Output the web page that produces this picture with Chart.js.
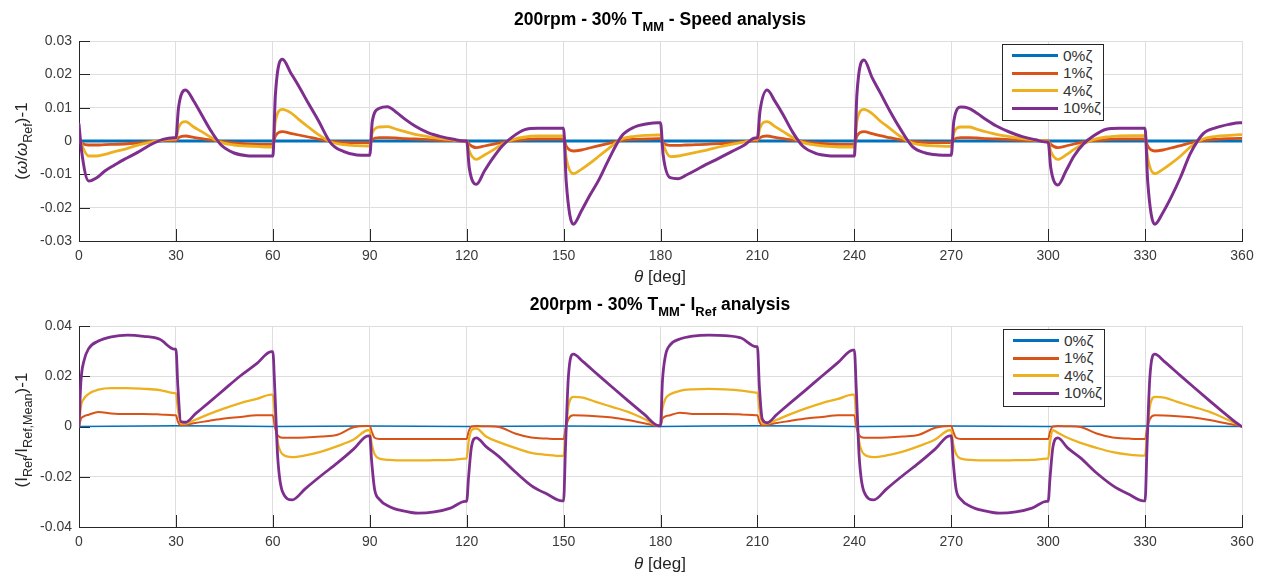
<!DOCTYPE html>
<html>
<head>
<meta charset="utf-8">
<script src="https://cdn.jsdelivr.net/npm/chart.js@4.4.1/dist/chart.umd.min.js"></script>
<style>
body { margin: 0; background: #fff; }
#page { position: relative; width: 1263px; height: 577px; font-family: 'Liberation Sans', Arial, sans-serif; color: #262626; overflow: hidden; }
canvas { position: absolute; left: 0; }
.title { position: absolute; left: 660px; transform: translateX(-50%); font-weight: bold; font-size: 17.5px; color: #000; white-space: nowrap; line-height: 1; }
.xlabel { position: absolute; left: 660px; transform: translateX(-50%); font-size: 17px; white-space: nowrap; line-height: 1; }
.ylabel { position: absolute; transform: translate(-50%, -50%) rotate(-90deg); font-size: 17px; white-space: nowrap; line-height: 1; }
sub { font-size: 74%; vertical-align: -0.45em; line-height: 0; }
.legend { position: absolute; background: #fff; border: 1px solid #262626; box-sizing: border-box; padding-top: 2px; }
.legend-row { display: flex; align-items: center; height: 17.5px; font-size: 15.5px; color: #333; }
.legend-line { width: 46px; height: 3px; margin-left: 9px; margin-right: 5px; }
</style>
</head>
<body>
<div id="page">
  <canvas id="speedChart" width="1263" height="290" style="top:0"></canvas>
  <canvas id="currentChart" width="1263" height="287" style="top:290px"></canvas>

  <div class="title" style="top:11px">200rpm - 30% T<sub>MM</sub> - Speed analysis</div>
  <div class="xlabel" style="top:268px"><i>θ</i> [deg]</div>
  <div class="ylabel" style="left:21px; top:141px">(<i>ω</i>/<i>ω</i><sub>Ref</sub>)-1</div>
  <div class="legend" id="speedLegend" style="left:1002px; top:44px; width:102px; height:77px"></div>

  <div class="title" style="top:296px">200rpm - 30% T<sub>MM</sub>- I<sub>Ref</sub> analysis</div>
  <div class="xlabel" style="top:555px"><i>θ</i> [deg]</div>
  <div class="ylabel" style="left:21px; top:430px">(I<sub>Ref</sub>/I<sub>Ref,Mean</sub>)-1</div>
  <div class="legend" id="currentLegend" style="left:1003px; top:329px; width:102px; height:78px"></div>
</div>

<script>
// Series e cores (MATLAB default)
const seriesLabels = ['0%ζ', '1%ζ', '4%ζ', '10%ζ'];
const seriesColors = ['#0072BD', '#D95319', '#EDB120', '#7E2F8E'];

// Ticks
const xTickValues = [0, 30, 60, 90, 120, 150, 180, 210, 240, 270, 300, 330, 360];
const speedTickValues = [-0.03, -0.02, -0.01, 0, 0.01, 0.02, 0.03];
const currentTickValues = [-0.04, -0.02, 0, 0.02, 0.04];

// Speed analysis - angulos (deg)
const thetaSpeed = [
    0, 0.8, 3, 5.5, 8, 11, 14, 18, 22, 26, 29.3,
    30, 30.8, 33, 35.5, 38, 41, 44, 48, 52, 56, 59.3,
    60, 60.8, 63, 65.5, 68, 71, 74, 78, 82, 86, 89.3,
    90, 90.8, 93, 95.5, 98, 101, 104, 108, 112, 116, 119.3,
    120, 120.8, 123, 125.5, 128, 131, 134, 138, 142, 146, 149.3,
    150, 150.8, 153, 155.5, 158, 161, 164, 168, 172, 176, 179.3,
    180, 180.8, 183, 185.5, 188, 191, 194, 198, 202, 206, 209.3,
    210, 210.8, 213, 215.5, 218, 221, 224, 228, 232, 236, 239.3,
    240, 240.8, 243, 245.5, 248, 251, 254, 258, 262, 266, 269.3,
    270, 270.8, 273, 275.5, 278, 281, 284, 288, 292, 296, 299.3,
    300, 300.8, 303, 305.5, 308, 311, 314, 318, 322, 326, 329.3,
    330, 330.8, 333, 335.5, 338, 341, 344, 348, 352, 356, 359.3,
    360
];
const thetaFlat = [0, 30, 60, 90, 120, 150, 180, 210, 240, 270, 300, 330, 360];

const speed0 = [0, 0, 0, 0, 0, 0, 0, 0, 0, 0, 0, 0, 0];
const speed1 = [
    0.0007, -0.0005, -0.0012, -0.0012, -0.0011, -0.001, -0.0009, -0.0006, -0.0002, 0.0001, 0.0002,
    0.0002, 0.001, 0.0015, 0.0011, 0.0007, 0.0003, -0.0001, -0.0006, -0.0009, -0.001, -0.001,
    -0.001, 0.0015, 0.0028, 0.0023, 0.0018, 0.0012, 0.0006, -0.0001, -0.0004, -0.0005, -0.0005,
    -0.0005, 0.0005, 0.001, 0.001, 0.0009, 0.0007, 0.0006, 0.0004, 0.0002, 0.0001, 0,
    0, -0.001, -0.002, -0.0015, -0.001, -0.0004, 0.0001, 0.0004, 0.0006, 0.0006, 0.0006,
    0.0006, -0.0015, -0.003, -0.0027, -0.0021, -0.0014, -0.0007, 0.0002, 0.0005, 0.0006, 0.0007,
    0.0007, -0.0005, -0.0013, -0.0013, -0.0012, -0.0011, -0.001, -0.0008, -0.0005, -0.0002, 0.0001,
    0.0001, 0.001, 0.0015, 0.0011, 0.0007, 0.0003, -0.0001, -0.0006, -0.0009, -0.001, -0.001,
    -0.001, 0.0015, 0.0028, 0.0022, 0.0016, 0.001, 0.0004, -0.0002, -0.0004, -0.0005, -0.0005,
    -0.0005, 0.0005, 0.001, 0.001, 0.0009, 0.0007, 0.0006, 0.0004, 0.0002, 0.0001, 0,
    0, -0.001, -0.002, -0.0015, -0.0009, -0.0003, 0.0001, 0.0004, 0.0006, 0.0006, 0.0006,
    0.0006, -0.0015, -0.003, -0.0027, -0.0021, -0.0014, -0.0006, 0.0002, 0.0005, 0.0007, 0.0008,
    0.0008
];
const speed4 = [
    0.0018, -0.001, -0.0045, -0.0045, -0.004, -0.0032, -0.0025, -0.0013, -0.0004, 0.0003, 0.0006,
    0.0006, 0.004, 0.0058, 0.0042, 0.0028, 0.001, -0.0004, -0.0012, -0.0015, -0.0017, -0.0018,
    -0.0018, 0.006, 0.0095, 0.0085, 0.0065, 0.0042, 0.002, -0.0003, -0.0011, -0.0014, -0.0015,
    -0.0015, 0.0025, 0.0042, 0.0043, 0.0036, 0.0028, 0.002, 0.0013, 0.0007, 0.0003, 0,
    0, -0.003, -0.0055, -0.0042, -0.0028, -0.001, 0.0003, 0.0012, 0.0015, 0.0015, 0.0015,
    0.0015, -0.005, -0.0098, -0.0085, -0.0068, -0.0045, -0.0022, 0.0006, 0.0014, 0.0017, 0.0018,
    0.0018, -0.001, -0.0047, -0.0045, -0.004, -0.0034, -0.0028, -0.0018, -0.001, -0.0003, 0.0005,
    0.0005, 0.004, 0.0058, 0.0043, 0.0028, 0.001, -0.0004, -0.0012, -0.0016, -0.0018, -0.0018,
    -0.0018, 0.006, 0.0095, 0.0082, 0.006, 0.0038, 0.0015, -0.0006, -0.0013, -0.0015, -0.0016,
    -0.0016, 0.0025, 0.0042, 0.0042, 0.0035, 0.0027, 0.002, 0.0013, 0.0007, 0.0003, 0,
    0, -0.003, -0.0055, -0.0042, -0.0025, -0.0008, 0.0004, 0.0012, 0.0015, 0.0016, 0.0016,
    0.0016, -0.005, -0.0098, -0.0085, -0.0068, -0.0045, -0.0018, 0.0006, 0.0014, 0.0017, 0.0019,
    0.0019
];
const speed10 = [
    0.005, -0.003, -0.012, -0.011, -0.009, -0.0072, -0.0055, -0.0035, -0.0012, 0.0005, 0.001,
    0.001, 0.010, 0.0153, 0.012, 0.0078, 0.0028, -0.0012, -0.0036, -0.0044, -0.0045, -0.0045,
    -0.0045, 0.014, 0.0245, 0.0205, 0.0165, 0.0113, 0.0063, -0.0007, -0.0032, -0.0042, -0.0043,
    -0.0043, 0.006, 0.0098, 0.0103, 0.0088, 0.0065, 0.0045, 0.0025, 0.0013, 0.0005, 0,
    0, -0.008, -0.013, -0.009, -0.0053, -0.0015, 0.0011, 0.0034, 0.0038, 0.0038, 0.0038,
    0.0038, -0.012, -0.025, -0.021, -0.0165, -0.0115, -0.0055, 0.0015, 0.0042, 0.0052, 0.0055,
    0.0055, -0.004, -0.011, -0.0113, -0.0102, -0.0087, -0.0071, -0.0052, -0.0032, -0.0012, 0.0009,
    0.0009, 0.009, 0.0153, 0.0118, 0.0078, 0.0025, -0.0015, -0.0037, -0.0044, -0.0045, -0.0045,
    -0.0045, 0.014, 0.0243, 0.019, 0.0145, 0.009, 0.004, -0.0017, -0.0036, -0.0042, -0.0043,
    -0.0043, 0.006, 0.0102, 0.0098, 0.0083, 0.0063, 0.0045, 0.0027, 0.0013, 0.0004, -0.0003,
    -0.0003, -0.008, -0.0132, -0.009, -0.0045, -0.0008, 0.0015, 0.0035, 0.0038, 0.0038, 0.0038,
    0.0038, -0.012, -0.025, -0.0215, -0.017, -0.0108, -0.0038, 0.0022, 0.004, 0.005, 0.0055,
    0.0055
];

// I_Ref analysis - angulos (deg)
const thetaCurrent = [
    0, 0.6, 1.5, 3, 6, 10, 15, 20, 25, 29.5,
    30, 30.6, 31.5, 33, 36, 40, 45, 50, 55, 59.5,
    60, 60.6, 61.5, 63, 66, 70, 75, 80, 85, 89.5,
    90, 90.6, 91.5, 93, 96, 100, 105, 110, 115, 119.5,
    120, 120.6, 121.5, 123, 126, 130, 135, 140, 145, 149.5,
    150, 150.6, 151.5, 153, 156, 160, 165, 170, 175, 179.5,
    180, 180.6, 181.5, 183, 186, 190, 195, 200, 205, 209.5,
    210, 210.6, 211.5, 213, 216, 220, 225, 230, 235, 239.5,
    240, 240.6, 241.5, 243, 246, 250, 255, 260, 265, 269.5,
    270, 270.6, 271.5, 273, 276, 280, 285, 290, 295, 299.5,
    300, 300.6, 301.5, 303, 306, 310, 315, 320, 325, 329.5,
    330, 330.6, 331.5, 333, 336, 340, 345, 350, 355, 359.5,
    360
];

const current0 = [0, 0.0003, 0, 0.0002, 0, 0.0002, 0, 0.0003, 0, 0.0002, 0, 0.0002, 0];
const current1 = [
    0, 0.003, 0.004, 0.0047, 0.0058, 0.0052, 0.005, 0.005, 0.0048, 0.0045,
    0.0045, 0.002, 0.0005, 0.0007, 0.0014, 0.0022, 0.0032, 0.0038, 0.0045, 0.0045,
    0.0045, 0, -0.0035, -0.0045, -0.0045, -0.0044, -0.004, -0.0033, -0.0003, 0.0002,
    0.0002, -0.002, -0.0045, -0.005, -0.005, -0.005, -0.005, -0.005, -0.005, -0.005,
    -0.005, -0.002, 0, 0.0002, 0.0001, -0.0002, -0.0028, -0.0044, -0.0048, -0.005,
    -0.005, -0.001, 0.003, 0.0045, 0.0044, 0.0041, 0.0036, 0.0026, 0.0013, 0.0002,
    0.0002, 0.003, 0.004, 0.0045, 0.0055, 0.005, 0.005, 0.005, 0.0048, 0.0045,
    0.0045, 0.002, 0.0005, 0.0007, 0.0014, 0.0022, 0.0032, 0.0038, 0.0045, 0.0045,
    0.0045, 0, -0.0035, -0.0045, -0.0045, -0.0044, -0.004, -0.0033, -0.0005, 0.0002,
    0.0002, -0.002, -0.0045, -0.005, -0.005, -0.005, -0.005, -0.005, -0.005, -0.005,
    -0.005, -0.002, 0, 0.0002, 0.0001, -0.0002, -0.0028, -0.0044, -0.0048, -0.005,
    -0.005, -0.001, 0.003, 0.0045, 0.0044, 0.0041, 0.0036, 0.0026, 0.0013, 0.0002,
    0
];
const current4 = [
    0, 0.008, 0.011, 0.013, 0.0147, 0.0153, 0.0153, 0.015, 0.0145, 0.0133,
    0.0133, 0.007, 0.0012, 0.0012, 0.0027, 0.0048, 0.0072, 0.0093, 0.011, 0.0127,
    0.0127, 0.005, -0.006, -0.011, -0.0122, -0.0115, -0.01, -0.0078, -0.0052, -0.0015,
    -0.0015, -0.007, -0.011, -0.0128, -0.0133, -0.0135, -0.0135, -0.0134, -0.0133, -0.0128,
    -0.0128, -0.006, -0.0015, -0.0008, -0.004, -0.0062, -0.0085, -0.0105, -0.0113, -0.0117,
    -0.0117, -0.003, 0.008, 0.0118, 0.0115, 0.0098, 0.0078, 0.0058, 0.003, 0.0003,
    0.0003, 0.007, 0.011, 0.0128, 0.0142, 0.0148, 0.015, 0.0148, 0.0143, 0.0135,
    0.0135, 0.007, 0.0012, 0.0012, 0.0027, 0.0048, 0.0072, 0.0093, 0.011, 0.0127,
    0.0127, 0.005, -0.006, -0.011, -0.0122, -0.0115, -0.01, -0.0078, -0.0052, -0.0015,
    -0.0015, -0.007, -0.011, -0.0128, -0.0133, -0.0135, -0.0135, -0.0134, -0.0133, -0.0128,
    -0.0128, -0.006, -0.0015, -0.0025, -0.0045, -0.0065, -0.0085, -0.0102, -0.0112, -0.0116,
    -0.0116, -0.003, 0.008, 0.0118, 0.0115, 0.0098, 0.0078, 0.0058, 0.003, 0.0003,
    0
];
const current10 = [
    0, 0.018, 0.026, 0.031, 0.034, 0.0357, 0.0364, 0.0359, 0.0347, 0.0308,
    0.0308, 0.016, 0.002, 0.0017, 0.005, 0.0093, 0.0148, 0.0202, 0.025, 0.0298,
    0.0298, 0.015, -0.012, -0.026, -0.0292, -0.0248, -0.0195, -0.0145, -0.009, -0.0037,
    -0.0037, -0.014, -0.025, -0.029, -0.0318, -0.0335, -0.0345, -0.034, -0.0325, -0.0298,
    -0.0298, -0.02, -0.008, -0.0045, -0.008, -0.012, -0.018, -0.0235, -0.027, -0.0296,
    -0.0296, -0.008, 0.02, 0.0288, 0.0258, 0.0213, 0.0157, 0.0102, 0.0048, 0.0003,
    0.0003, 0.018, 0.028, 0.0325, 0.0348, 0.036, 0.0364, 0.0362, 0.0352, 0.0318,
    0.0318, 0.016, 0.003, 0.0015, 0.0048, 0.0092, 0.0146, 0.0201, 0.0255, 0.0304,
    0.0304, 0.015, -0.012, -0.026, -0.0292, -0.0248, -0.0195, -0.0145, -0.009, -0.0037,
    -0.0037, -0.014, -0.025, -0.029, -0.0318, -0.0335, -0.0345, -0.034, -0.0325, -0.0298,
    -0.0298, -0.02, -0.008, -0.0045, -0.0085, -0.0125, -0.0185, -0.0235, -0.027, -0.0296,
    -0.0296, -0.008, 0.02, 0.0288, 0.0258, 0.0213, 0.0157, 0.0102, 0.0048, 0.0003,
    0
];

const tickFont = { family: "'Liberation Sans', Arial, sans-serif", size: 14 };
const tickColor = '#3a3a3a';
const gridColor = '#dedede';
const axisColor = '#262626';

function toPoints(thetas, values) {
    return thetas.map((t, i) => ({ x: t, y: values[i] }));
}

function formatTick(v) {
    if (Math.abs(v) < 1e-9) return '0';
    return v.toFixed(2);
}

// Ticks para dentro, estilo MATLAB
const inwardTicks = {
    id: 'inwardTicks',
    beforeDatasetsDraw(chart) {
        const { ctx, chartArea, scales } = chart;
        ctx.save();
        ctx.strokeStyle = axisColor;
        ctx.lineWidth = 1;
        ctx.beginPath();
        scales.x.ticks.forEach(t => {
            const px = Math.round(scales.x.getPixelForValue(t.value)) + 0.5;
            ctx.moveTo(px, chartArea.bottom);
            ctx.lineTo(px, chartArea.bottom - 12);
        });
        scales.y.ticks.forEach(t => {
            const py = Math.round(scales.y.getPixelForValue(t.value)) + 0.5;
            ctx.moveTo(chartArea.left, py);
            ctx.lineTo(chartArea.left + 11, py);
        });
        ctx.stroke();
        ctx.restore();
    }
};

function makeChart(canvasId, datasets, yMin, yMax, yTicks, padTop, xHeight) {
    const ctx = document.getElementById(canvasId).getContext('2d');
    return new Chart(ctx, {
        type: 'line',
        data: { datasets: datasets },
        plugins: [inwardTicks],
        options: {
            responsive: false,
            animation: false,
            devicePixelRatio: 1,
            events: [],
            layout: { padding: { top: padTop, right: 21, left: 0, bottom: 0 } },
            plugins: { legend: { display: false }, tooltip: { enabled: false }, title: { display: false } },
            elements: {
                point: { radius: 0 },
                line: { cubicInterpolationMode: 'monotone', borderJoinStyle: 'round', borderCapStyle: 'round' }
            },
            scales: {
                x: {
                    type: 'linear',
                    min: 0,
                    max: 360,
                    afterBuildTicks: scale => { scale.ticks = xTickValues.map(v => ({ value: v })); },
                    afterFit: scale => { scale.height = xHeight; },
                    ticks: { font: tickFont, color: tickColor, padding: 7, maxRotation: 0, autoSkip: false },
                    grid: { color: gridColor, drawTicks: false },
                    border: { color: axisColor, width: 1 }
                },
                y: {
                    type: 'linear',
                    min: yMin,
                    max: yMax,
                    afterBuildTicks: scale => { scale.ticks = yTicks.map(v => ({ value: v })); },
                    afterFit: scale => { scale.width = 79; },
                    ticks: { font: tickFont, color: tickColor, padding: 7, callback: formatTick },
                    grid: { color: gridColor, drawTicks: false },
                    border: { color: axisColor, width: 1 }
                }
            }
        }
    });
}

function buildLegend(elId, chart) {
    const box = document.getElementById(elId);
    // ordem do legend = ordem das series
    seriesLabels.forEach(label => {
        const ds = chart.data.datasets.find(d => d.label === label);
        const row = document.createElement('div');
        row.className = 'legend-row';
        const line = document.createElement('span');
        line.className = 'legend-line';
        line.style.background = ds.borderColor;
        const text = document.createElement('span');
        text.innerText = label;
        row.appendChild(line);
        row.appendChild(text);
        box.appendChild(row);
    });
}

const speedSeries = [
    toPoints(thetaFlat, speed0),
    toPoints(thetaSpeed, speed1),
    toPoints(thetaSpeed, speed4),
    toPoints(thetaSpeed, speed10)
];
const currentSeries = [
    toPoints(thetaFlat, current0),
    toPoints(thetaCurrent, current1),
    toPoints(thetaCurrent, current4),
    toPoints(thetaCurrent, current10)
];

const speedWidths = [3, 2.8, 2.8, 3];
const currentWidths = [1.5, 2, 2.3, 2.8];

const speedChart = makeChart('speedChart', speedSeries.map((data, i) => ({
    label: seriesLabels[i],
    data: data,
    borderColor: seriesColors[i],
    borderWidth: speedWidths[i],
    order: 3 - i
})), -0.03, 0.03, speedTickValues, 41, 49);

const currentChart = makeChart('currentChart', currentSeries.map((data, i) => ({
    label: seriesLabels[i],
    data: data,
    borderColor: seriesColors[i],
    borderWidth: currentWidths[i],
    order: 3 - i
})), -0.04, 0.04, currentTickValues, 36, 50);

buildLegend('speedLegend', speedChart);
buildLegend('currentLegend', currentChart);
</script>
</body>
</html>
